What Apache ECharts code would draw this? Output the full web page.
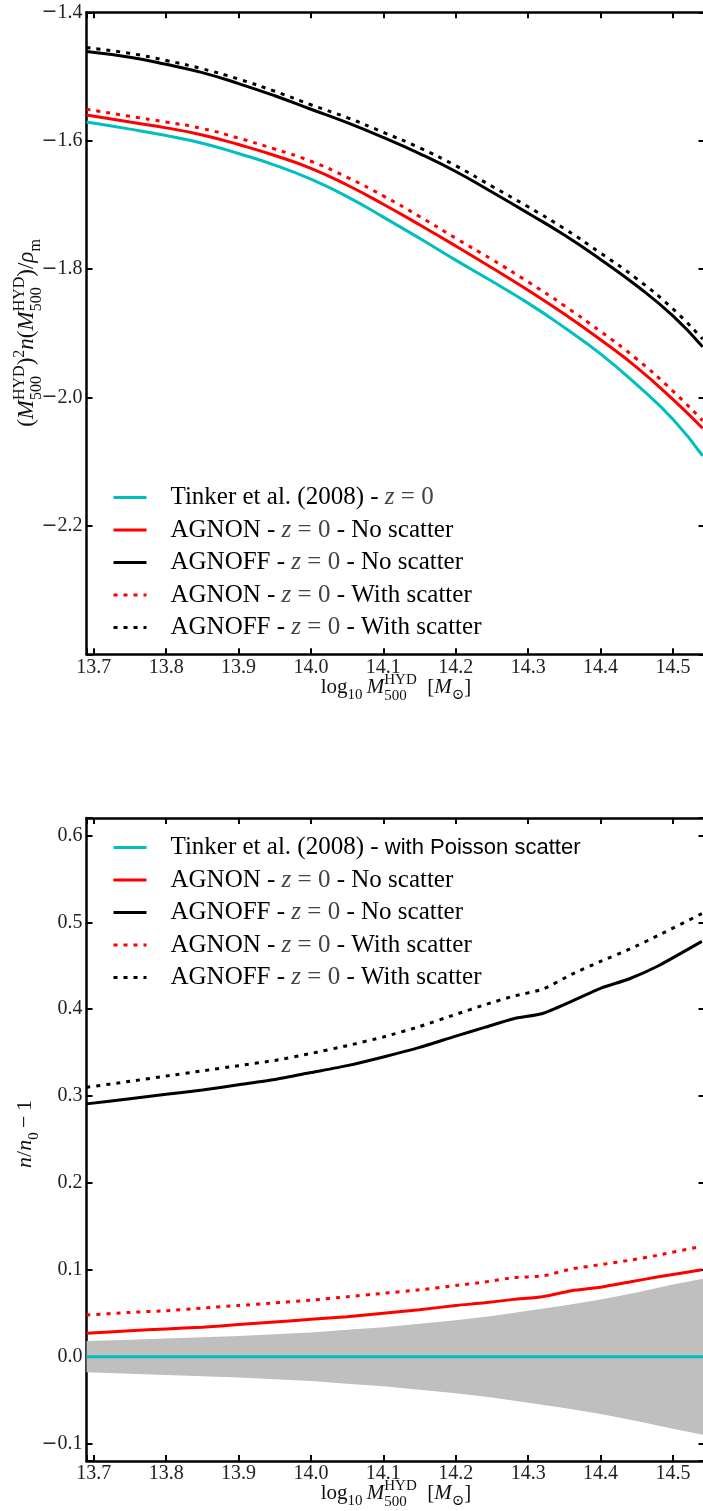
<!DOCTYPE html>
<html>
<head>
<meta charset="utf-8">
<script src="https://cdn.jsdelivr.net/npm/echarts@6/dist/echarts.min.js"></script>
<style>
  html, body { margin: 0; padding: 0; background: #fff; }
  #chart { width: 703px; height: 1511px; }
</style>
</head>
<body>
<div id="chart"></div>
<script>
// ---------- upper panel: mass function, (M^2 n / rho_m) in log10 ----------
const massGrid = [13.69, 13.75, 13.80, 13.85, 13.90, 13.95, 14.00, 14.05, 14.10,
                  14.15, 14.20, 14.25, 14.30, 14.35, 14.40, 14.45, 14.50, 14.541];
const tinkerZ0 = [-1.571, -1.582, -1.592, -1.604, -1.620, -1.638, -1.660, -1.687, -1.719,
                  -1.752, -1.786, -1.819, -1.853, -1.891, -1.932, -1.980, -2.034, -2.091];
const agnonNoScatter = [-1.560, -1.571, -1.580, -1.591, -1.606, -1.623, -1.643, -1.669, -1.699,
                        -1.731, -1.764, -1.798, -1.833, -1.870, -1.910, -1.953, -2.003, -2.048];
const agnoffNoScatter = [-1.461, -1.470, -1.481, -1.494, -1.511, -1.530, -1.551, -1.572, -1.595,
                         -1.620, -1.648, -1.680, -1.713, -1.747, -1.785, -1.826, -1.873, -1.921];
const agnonScatter = [-1.551, -1.562, -1.571, -1.581, -1.596, -1.613, -1.632, -1.657, -1.686,
                      -1.718, -1.752, -1.785, -1.820, -1.857, -1.897, -1.940, -1.990, -2.036];
const agnoffScatter = [-1.455, -1.464, -1.475, -1.488, -1.504, -1.523, -1.544, -1.564, -1.587,
                       -1.611, -1.639, -1.671, -1.703, -1.737, -1.775, -1.815, -1.862, -1.909];

// ---------- lower panel: n/n0 - 1 relative to Tinker et al. (2008) ----------
const ratioMass = [13.69, 13.75, 13.80, 13.85, 13.90, 13.95, 14.00, 14.05, 14.10, 14.15,
                   14.20, 14.24, 14.28, 14.32, 14.36, 14.40, 14.44, 14.48, 14.54];
const ratioAgnon = [0.027, 0.030, 0.032, 0.034, 0.037, 0.040, 0.043, 0.046, 0.050, 0.054,
                    0.059, 0.062, 0.066, 0.069, 0.076, 0.080, 0.086, 0.092, 0.100];
const ratioAgnoff = [0.291, 0.297, 0.302, 0.307, 0.313, 0.319, 0.327, 0.335, 0.345, 0.356,
                     0.369, 0.379, 0.389, 0.395, 0.409, 0.424, 0.435, 0.450, 0.478];
const ratioAgnonScatter = [0.048, 0.051, 0.053, 0.056, 0.059, 0.062, 0.065, 0.069, 0.073, 0.077,
                           0.082, 0.086, 0.091, 0.093, 0.101, 0.106, 0.111, 0.117, 0.127];
const ratioAgnoffScatter = [0.310, 0.317, 0.323, 0.329, 0.335, 0.341, 0.349, 0.358, 0.368, 0.380,
                            0.394, 0.405, 0.415, 0.423, 0.440, 0.455, 0.469, 0.485, 0.510];
const tinkerMass = [13.69, 14.5436];
const tinkerRatio = [0, 0];
const poissonMass = [13.69, 13.75, 13.80, 13.85, 13.90, 13.95, 14.00, 14.05, 14.10, 14.15, 14.20,
                     14.25, 14.30, 14.35, 14.40, 14.45, 14.50, 14.5436];
const poissonUpper = [0.018, 0.0195, 0.021, 0.0225, 0.024, 0.026, 0.028, 0.031, 0.034, 0.038, 0.042,
                      0.047, 0.053, 0.059, 0.066, 0.074, 0.083, 0.090];
const poissonLower = [-0.018, -0.0195, -0.021, -0.0225, -0.024, -0.026, -0.028, -0.031, -0.034, -0.038, -0.042,
                      -0.047, -0.053, -0.059, -0.066, -0.074, -0.083, -0.090];

// tick labels
const xTicks = ['13.7', '13.8', '13.9', '14.0', '14.1', '14.2', '14.3', '14.4', '14.5'];
const upperYTicks = ['-1.4', '-1.6', '-1.8', '-2.0', '-2.2'];
const lowerYTicks = ['0.6', '0.5', '0.4', '0.3', '0.2', '0.1', '0.0', '-0.1'];

// legend entries
const NAME_TINKER_TOP = 'Tinker et al. (2008) - z = 0';
const NAME_TINKER_BOTTOM = 'Tinker et al. (2008) - with Poisson scatter';
const NAME_AGNON = 'AGNON - z = 0 - No scatter';
const NAME_AGNOFF = 'AGNOFF - z = 0 - No scatter';
const NAME_AGNON_S = 'AGNON - z = 0 - With scatter';
const NAME_AGNOFF_S = 'AGNOFF - z = 0 - With scatter';

const SERIF = '"Liberation Serif", "DejaVu Serif", serif';
const SANS = '"Liberation Sans", "DejaVu Sans", sans-serif';
const CYAN = '#00bfbf', RED = '#ff0000', BLACK = '#000000', BAND = '#bfbfbf';
const DOT = [4, 6];

const X_MIN = 13.69, X_MAX = 14.5436;

const pairs = (xs, ys) => xs.map((x, i) => [x, ys[i]]);
const plain = v => (v < -1e-9 ? '-' : '') + Math.abs(v).toFixed(1);
const onTenth = v => Math.abs(v * 10 - Math.round(v * 10)) < 1e-6;
const tickText = v => (v < -1e-9 ? '{mi|\u2212}' : '') + '{d|' + Math.abs(v).toFixed(1) + '}';

const chart = echarts.init(document.getElementById('chart'), null, { renderer: 'canvas' });

// axis helpers
const spine = { show: true, onZero: false, lineStyle: { color: '#000', width: 2.5 } };
const ticks = { show: true, inside: true, length: 6, lineStyle: { color: '#000', width: 2 } };
const labelFont = {
  fontFamily: SERIF, fontSize: 20, color: '#222',
  rich: {
    mi: { fontFamily: '"DejaVu Serif", serif', fontSize: 19, color: '#222' },
    d: { fontFamily: SERIF, fontSize: 20, color: '#222' }
  }
};

function xAxisPair(grid) {
  const base = {
    type: 'value', gridIndex: grid, min: X_MIN, max: X_MAX,
    minInterval: 0.1, maxInterval: 0.1, splitLine: { show: false },
    axisLine: spine, axisTick: ticks
  };
  return [
    Object.assign({}, base, {
      position: 'bottom',
      axisLabel: Object.assign({ margin: 3, showMinLabel: true, showMaxLabel: true,
        formatter: v => (onTenth(v) && xTicks.includes(plain(v))) ? tickText(v) : '' }, labelFont)
    }),
    Object.assign({}, base, { position: 'top', axisLabel: { show: false } })
  ];
}

function yAxisPair(grid, opts, allowed) {
  const base = Object.assign({
    type: 'value', gridIndex: grid, splitLine: { show: false },
    axisLine: spine, axisTick: ticks
  }, opts);
  return [
    Object.assign({}, base, {
      position: 'left',
      axisLabel: Object.assign({ margin: 4, showMinLabel: true, showMaxLabel: true,
        formatter: v => (onTenth(v) && allowed.includes(plain(v))) ? tickText(v) : '' }, labelFont)
    }),
    Object.assign({}, base, { position: 'right', axisLabel: { show: false } })
  ];
}

function curve(name, xs, ys, color, dashed, xi, yi, smooth) {
  return {
    type: 'line', name, xAxisIndex: xi, yAxisIndex: yi,
    data: pairs(xs, ys), symbol: 'none', smooth: smooth, silent: true,
    lineStyle: { color, width: 3, type: dashed ? DOT : 'solid', cap: 'butt' },
    itemStyle: { color }, z: 3
  };
}

// legend text (rich)
const LEG = 25;
const legendRich = {
  sp: { width: 19 },
  t: { fontFamily: SERIF, fontSize: LEG, color: '#000', lineHeight: 26 },
  m: { fontFamily: SERIF, fontStyle: 'italic', fontSize: LEG, color: '#444', lineHeight: 26 },
  e: { fontFamily: SERIF, fontSize: LEG, color: '#444', lineHeight: 26 },
  ss: { fontFamily: SANS, fontSize: 22, color: '#000', lineHeight: 26 }
};
const legendText = {};
legendText[NAME_TINKER_TOP] = '{sp| }{t|Tinker et al. (2008) - }{m|z}{e| = 0}';
legendText[NAME_TINKER_BOTTOM] = '{sp| }{t|Tinker et al. (2008) - }{ss|with Poisson scatter}';
legendText[NAME_AGNON] = '{sp| }{t|AGNON - }{m|z}{e| = 0}{t| - No scatter}';
legendText[NAME_AGNOFF] = '{sp| }{t|AGNOFF - }{m|z}{e| = 0}{t| - No scatter}';
legendText[NAME_AGNON_S] = '{sp| }{t|AGNON - }{m|z}{e| = 0}{t| - With scatter}';
legendText[NAME_AGNOFF_S] = '{sp| }{t|AGNOFF - }{m|z}{e| = 0}{t| - With scatter}';

function legendBox(names, top) {
  return {
    data: names, orient: 'vertical', left: 112, top: top,
    itemWidth: 33, itemHeight: 14, itemGap: 7.5, padding: 0,
    selectedMode: false,
    itemStyle: { opacity: 0, borderWidth: 0 },
    lineStyle: { width: 3, cap: 'butt' },
    formatter: n => legendText[n],
    textStyle: { rich: legendRich }
  };
}

// math-style axis titles built from text pieces
const measureCtx = document.createElement('canvas').getContext('2d');
function textWidth(text, size, italic) {
  measureCtx.font = (italic ? 'italic ' : '') + size + 'px ' + SERIF;
  return measureCtx.measureText(text).width;
}
function mathLabel(tokens, size, cx, cy, rotation) {
  const small = Math.round(size * 0.7);
  const parts = [];
  let x = 0;
  const add = (text, fs, italic, dy) => {
    parts.push({ text, fs, italic, x, dy });
    x += textWidth(text, fs, italic);
  };
  tokens.forEach(([t, k]) => {
    if (k === 'r') add(t, size, false, 0);
    else if (k === 'i') add(t, size, true, 0);
    else if (k === 'sub') add(t, small, false, 0.28 * size);
    else if (k === 'sup') add(t, small, false, -0.42 * size);
    else if (k === 'stack') {
      const x0 = x;
      add(t[0], small, false, -0.42 * size);
      const x1 = x;
      x = x0;
      add(t[1], small, false, 0.32 * size);
      x = Math.max(x, x1);
    }
  });
  const total = x;
  return {
    type: 'group', x: cx, y: cy, rotation: rotation || 0, silent: true,
    children: parts.map(p => ({
      type: 'text',
      x: p.x - total / 2,
      y: 0.3 * size + p.dy - 0.34 * p.fs,
      style: {
        text: p.text, fontSize: p.fs, fontFamily: SERIF,
        fontStyle: p.italic ? 'italic' : 'normal',
        fill: '#111', align: 'left', verticalAlign: 'middle'
      }
    }))
  };
}

const xTitle = [['log', 'r'], ['10', 'sub'], ['\u2009', 'r'], ['M', 'i'], [['HYD', '500'], 'stack'],
                ['\u2002[', 'r'], ['M', 'i'], ['\u2299', 'sub'], [']', 'r']];
const yTitleUpper = [['(', 'r'], ['M', 'i'], [['HYD', '500'], 'stack'], [')', 'r'], ['2', 'sup'],
                     ['n', 'i'], ['(', 'r'], ['M', 'i'], [['HYD', '500'], 'stack'], [')', 'r'],
                     ['/', 'r'], ['\u03c1', 'i'], ['m', 'sub']];
const yTitleLower = [['n', 'i'], ['/', 'r'], ['n', 'i'], ['0', 'sub'], ['\u2009\u2212\u20091', 'r']];

// Poisson band drawn as one polygon through the lower panel's scales
function poissonBand(params, api) {
  if (params.dataIndex !== 0) return null;
  const pts = [];
  for (let i = 0; i < poissonMass.length; i++) pts.push(api.coord([poissonMass[i], poissonUpper[i]]));
  for (let i = poissonMass.length - 1; i >= 0; i--) pts.push(api.coord([poissonMass[i], poissonLower[i]]));
  return { type: 'polygon', shape: { points: pts }, style: { fill: BAND } };
}

const option = {
  animation: false,
  backgroundColor: '#fff',
  grid: [
    { left: 86.5, top: 12.3, width: 618, height: 642, outerBoundsMode: 'none', containLabel: false },
    { left: 86.5, top: 818, width: 618, height: 643, outerBoundsMode: 'none', containLabel: false }
  ],
  xAxis: [...xAxisPair(0), ...xAxisPair(1)],
  yAxis: [
    ...yAxisPair(0, { min: -2.4, max: -1.4, interval: 0.2 }, upperYTicks),
    ...yAxisPair(1, { min: -0.12, max: 0.62, minInterval: 0.1, maxInterval: 0.1 }, lowerYTicks)
  ],
  legend: [
    legendBox([NAME_TINKER_TOP, NAME_AGNON, NAME_AGNOFF, NAME_AGNON_S, NAME_AGNOFF_S], 485),
    legendBox([NAME_TINKER_BOTTOM, NAME_AGNON, NAME_AGNOFF, NAME_AGNON_S, NAME_AGNOFF_S], 835)
  ],
  graphic: [
    mathLabel(xTitle, 21, 396, 688, 0),
    mathLabel(xTitle, 21, 396, 1494, 0),
    mathLabel(yTitleUpper, 23, 28, 333, Math.PI / 2),
    mathLabel(yTitleLower, 22, 26, 1134, Math.PI / 2)
  ],
  series: [
    // upper panel
    curve(NAME_TINKER_TOP, massGrid, tinkerZ0, CYAN, false, 0, 0, true),
    curve(NAME_AGNON, massGrid, agnonNoScatter, RED, false, 0, 0, true),
    curve(NAME_AGNOFF, massGrid, agnoffNoScatter, BLACK, false, 0, 0, true),
    curve(NAME_AGNON_S, massGrid, agnonScatter, RED, true, 0, 0, true),
    curve(NAME_AGNOFF_S, massGrid, agnoffScatter, BLACK, true, 0, 0, true),
    // lower panel
    {
      type: 'custom', name: 'poisson', xAxisIndex: 2, yAxisIndex: 2,
      data: pairs(poissonMass, poissonUpper), renderItem: poissonBand,
      silent: true, clip: true, z: 1
    },
    curve(NAME_TINKER_BOTTOM, tinkerMass, tinkerRatio, CYAN, false, 2, 2, false),
    curve(NAME_AGNON, ratioMass, ratioAgnon, RED, false, 2, 2, 0.2),
    curve(NAME_AGNOFF, ratioMass, ratioAgnoff, BLACK, false, 2, 2, 0.2),
    curve(NAME_AGNON_S, ratioMass, ratioAgnonScatter, RED, true, 2, 2, 0.2),
    curve(NAME_AGNOFF_S, ratioMass, ratioAgnoffScatter, BLACK, true, 2, 2, 0.2)
  ]
};

chart.setOption(option);
</script>
</body>
</html>
